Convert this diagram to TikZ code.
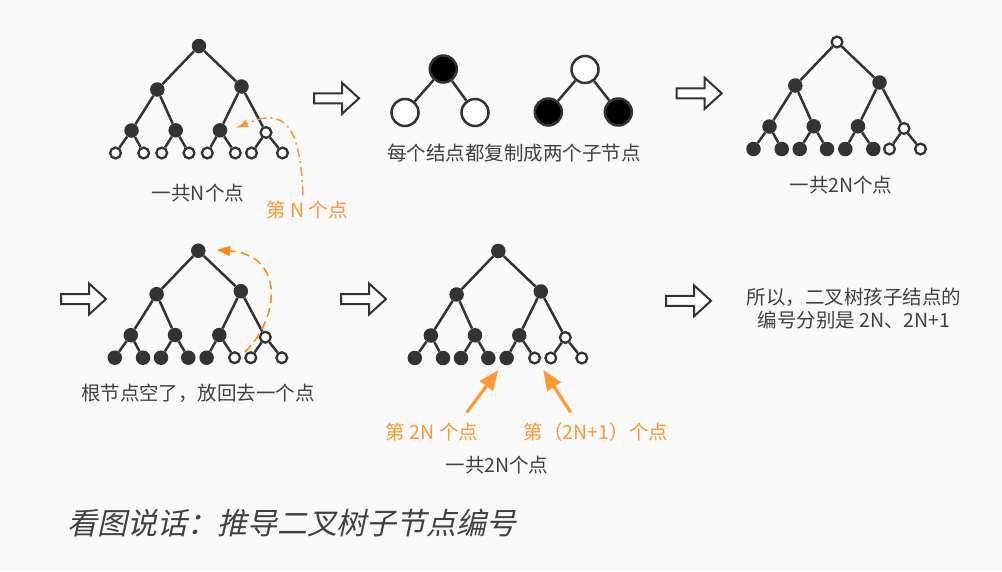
\documentclass[tikz,border=0pt]{standalone}
\usepackage{fontspec}
\setmainfont{Noto Sans CJK SC}
\newfontfamily\titlefont[FakeSlant=0.22]{Noto Sans CJK SC}
\usetikzlibrary{arrows.meta}
\definecolor{bgc}{HTML}{F9F9F9}
\definecolor{dk}{HTML}{333333}
\definecolor{tc}{HTML}{404040}
\definecolor{oc}{HTML}{F79A3A}
\definecolor{oa}{HTML}{FF9933}
\definecolor{od}{HTML}{FF8A10}
\tikzset{
  F/.style={circle, inner sep=0pt, minimum size=14.5pt, fill=dk},
  H/.style={circle, inner sep=0pt, minimum size=10.8pt, draw=dk, line width=2.3pt, fill=white},
  edge/.style={draw=dk, line width=2.5pt},
  bigF/.style={circle, inner sep=0pt, minimum size=27pt, draw=dk, line width=2.5pt, fill=black},
  bigH/.style={bigF, fill=white},
  txt/.style={text=tc, font=\fontsize{19.5}{23}\selectfont, inner sep=0pt},
  otxt/.style={txt, text=oc},
  blk/.style={draw=dk, line width=2pt, fill=white},
}
\newcommand\drawtree[4]{%
  \begin{scope}[shift={(#2,#3)}]
  \foreach \s [count=\i] in {#4} {
    \pgfmathsetmacro\px{{0,-41.7,42.5,-67.5,-23.3,21,67,-83.5,-55.3,-37.3,-10,8.3,36.3,52.5,83.5}[\i-1]}
    \pgfmathsetmacro\py{{0,43.5,40.5,84.5,84.3,84.3,86.5,107,107,107,107,107,107,107,107}[\i-1]}
    \node[\s] (#1-\i) at (\px,\py) {};
  }
  \foreach \i in {2,...,15} {
    \pgfmathtruncatemacro\p{floor(\i/2)}
    \draw[edge] (#1-\p) -- (#1-\i);
  }
  \end{scope}}
\newcommand\blockarrow[2]{%
  \draw[blk] (#1,#2-5) -- ++(28,0) -- ++(0,-10.5) -- (#1+45,#2) -- (#1+28,#2+15.5) -- ++(0,-10.5) -- (#1,#2+5) -- cycle;}
\begin{document}
\begin{tikzpicture}[x=1pt,y=-1pt]
\useasboundingbox (0,0) rectangle (1002,571);
\fill[bgc] (0,0) rectangle (1002,571);

% trees
\drawtree{ta}{199}{46}{F,F,F,F,F,F,H,H,H,H,H,H,H,H,H}
\drawtree{tc}{837}{42}{H,F,F,F,F,F,H,F,F,F,F,F,F,H,H}
\drawtree{td}{198.3}{250.7}{F,F,F,F,F,F,H,F,F,F,F,F,H,H,H}
\drawtree{te}{498.3}{251}{F,F,F,F,F,F,H,F,F,F,F,F,H,H,H}

% duplicated pairs
\node[bigF] (m1) at (443.3,69) {};
\node[bigH] (m1a) at (405,112.5) {};
\node[bigH] (m1b) at (475,112.5) {};
\node[bigH] (m2) at (585,69.5) {};
\node[bigF] (m2a) at (548.3,112) {};
\node[bigF] (m2b) at (618.3,112) {};
\draw[edge] (m1) -- (m1a);
\draw[edge] (m1) -- (m1b);
\draw[edge] (m2) -- (m2a);
\draw[edge] (m2) -- (m2b);

% block arrows
\blockarrow{314}{98.3}
\blockarrow{676.7}{93.3}
\blockarrow{61}{299}
\blockarrow{341}{299}
\blockarrow{666}{300.8}

% labels
\node[txt] (l1) at (198,193) {一共N个点};
\node[otxt] (l1o) at (307,210) {第 N 个点};
\node[txt] (l2) at (514,153) {每个结点都复制成两个子节点};
\node[txt] (l3) at (841,185) {一共2N个点};
\node[txt] (l4) at (198,393) {根节点空了，放回去一个点};
\node[otxt] (l5a) at (432,432) {第 2N 个点};
\node[otxt] (l5b) at (596,432) {第（2N+1）个点};
\node[txt] (l5) at (497,465) {一共2N个点};
\node[txt, align=center] (l6) at (854,309) {所以，二叉树孩子结点的\\编号分别是 2N、2N+1};
\node[text=tc, font=\titlefont\fontsize{30}{34}\selectfont, inner sep=0pt] (ttl) at (292,523) {看图说话：推导二叉树子节点编号};

% orange connectors
\coordinate (c1s) at (303,195);
\coordinate (c1e) at (236,128);
\draw[oc, line width=1.5pt, dash pattern=on 9pt off 4pt on 2pt off 4pt, -{Latex[length=12pt,width=8pt]}]
  (c1s) .. controls (300,110) and (275,112) .. (c1e);
\coordinate (c4s) at (245,352);
\coordinate (c4e) at (217,250);
\draw[od, line width=1.5pt, dash pattern=on 9pt off 5pt, -{Triangle[length=13pt,width=10pt]}]
  (c4s) .. controls (280,318) and (285,255) .. (c4e);
\coordinate (c5s) at (466.7,412.5);
\coordinate (c5e) at (498.3,370);
\coordinate (c6s) at (570.7,412.5);
\coordinate (c6e) at (543.3,370);
\draw[oa, line width=3.2pt, -{Triangle[length=20pt,width=16pt]}] (c5s) -- (c5e);
\draw[oa, line width=3.2pt, -{Triangle[length=20pt,width=16pt]}] (c6s) -- (c6e);
\end{tikzpicture}
\end{document}
